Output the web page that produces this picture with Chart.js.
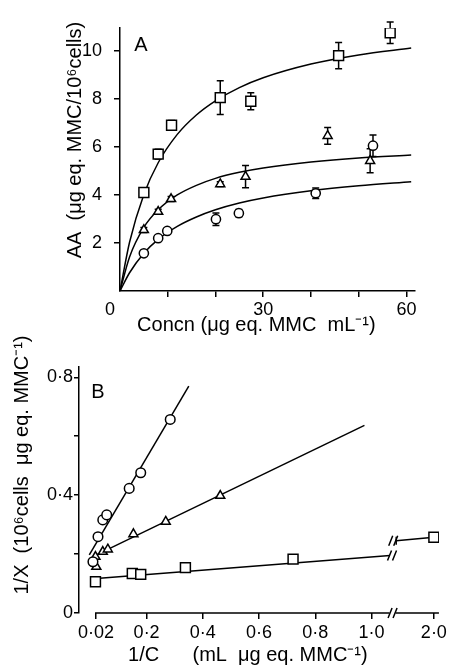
<!DOCTYPE html>
<html><head><meta charset="utf-8">
<script src="https://cdn.jsdelivr.net/npm/chart.js@4.4.1/dist/chart.umd.min.js"></script>
<style>
html,body{margin:0;padding:0;background:#fff;}
#wrap{position:relative;width:450px;height:670px;overflow:hidden;background:#fff;}
#ca{position:absolute;left:0;top:0;}
#cb{position:absolute;left:0;top:330px;}
</style></head><body>
<div id="wrap"><canvas id="ca" width="450" height="340"></canvas><canvas id="cb" width="450" height="340"></canvas></div>
<script>
// ---------- Panel A data ----------
const aSquareX = [5.0, 8.0, 10.8, 21.0, 27.4, 45.8, 56.6];
const aSquareY = [4.1, 5.7, 6.9, 8.05, 7.9, 9.8, 10.75];
const aSquareErr = [0.2, 0.2, 0.2, 0.7, 0.35, 0.55, 0.45];
const aTriX = [5.0, 8.0, 10.7, 21.0, 26.3, 43.5, 52.4];
const aTriY = [2.54, 3.3, 3.83, 4.45, 4.76, 6.46, 5.42];
const aTriErr = [0.1, 0.1, 0.1, 0.1, 0.46, 0.35, 0.5];
const aCircX = [5.0, 8.0, 9.9, 20.1, 24.9, 41.0, 53.0];
const aCircY = [1.57, 2.2, 2.5, 2.99, 3.24, 4.07, 6.05];
const aCircErr = [0.1, 0.1, 0.1, 0.26, 0.15, 0.22, 0.45];
const aCurveX = [0, 2, 5, 8, 12, 16, 20, 25, 30, 40, 50, 61];
const aSquareCurve = [0, 2.03, 4.02, 5.34, 6.52, 7.33, 7.92, 8.47, 8.88, 9.45, 9.83, 10.12];
const aTriCurve = [0, 1.42, 2.65, 3.38, 4.0, 4.40, 4.69, 4.94, 5.12, 5.37, 5.54, 5.66];
const aCircCurve = [0, 0.76, 1.57, 2.15, 2.69, 3.08, 3.38, 3.66, 3.87, 4.17, 4.38, 4.55];
const aXTicks = [0, 10, 20, 30, 40, 50, 60];
const aXTickLabels = ['0    ', '', '', '30', '', '', '60'];
const aYTicks = [2, 4, 6, 8, 10];
const aYTickLabels = ['2', '4', '6', '8', '10'];

// ---------- Panel B data ----------
const bCircX = [0.009, 0.027, 0.044, 0.058, 0.138, 0.179, 0.284];
const bCircY = [0.174, 0.259, 0.316, 0.333, 0.423, 0.476, 0.657];
const bTriX = [0.018, 0.021, 0.044, 0.062, 0.153, 0.268, 0.462];
const bTriY = [0.191, 0.157, 0.208, 0.216, 0.268, 0.31, 0.398];
const bSqX = [0.018, 0.149, 0.179, 0.338, 0.721, 2.0];
const bSqY = [0.106, 0.134, 0.131, 0.154, 0.183, 0.257];
const bCircLineX = [-0.004, 0.350];
const bCircLineY = [0.197, 0.770];
const bTriLineX = [0.012, 0.975];
const bTriLineY = [0.193, 0.637];
const bSqLineX = [0.033, 1.066];
const bSqLineY = [0.118, 0.195];
const bSqLine2X = [1.866, 2.0];
const bSqLine2Y = [0.245, 0.257];
const bXTicks = [0.02, 0.2, 0.4, 0.6, 0.8, 1.0, 2.0];
const bXTickLabels = ['0·02', '0·2', '0·4', '0·6', '0·8', '1·0', '2·0'];
const bYTicks = [0, 0.2, 0.4, 0.6, 0.8];
const bYTickLabels = ['0', '', '0·4', '', '0·8'];
const bXBreak = 1.075;      // where the axis is broken
const bXGapShift = 0.778;   // amount of axis removed by the break

// ---------- helpers ----------
const FONT = "'Liberation Sans', Arial, sans-serif";
const pts = (xs, ys) => xs.map((x, i) => ({x: x, y: ys[i]}));

function markerDs(xs, ys, style, radius, errs) {
  return {type: 'scatter', data: pts(xs, ys), pointStyle: style, pointRadius: radius,
    pointBorderWidth: 1.5, pointBackgroundColor: '#fff', pointBorderColor: '#000',
    showLine: false, errors: errs || null, order: 0};
}
function lineDs(xs, ys, curved) {
  return {type: 'line', data: pts(xs, ys), borderColor: '#000', borderWidth: 1.5,
    pointRadius: 0, fill: false, cubicInterpolationMode: curved ? 'monotone' : 'default',
    tension: 0, order: 1};
}

const errorBarPlugin = {
  id: 'errorBars',
  beforeDatasetsDraw(chart) {
    const ctx = chart.ctx, ys = chart.scales.y;
    ctx.save();
    ctx.strokeStyle = '#000'; ctx.lineWidth = 1.5;
    chart.data.datasets.forEach((ds, di) => {
      if (!ds.errors) return;
      const meta = chart.getDatasetMeta(di);
      meta.data.forEach((el, i) => {
        const e = ds.errors[i], v = ds.data[i].y;
        const top = ys.getPixelForValue(v + e), bot = ys.getPixelForValue(v - e);
        ctx.beginPath();
        ctx.moveTo(el.x, top); ctx.lineTo(el.x, bot);
        ctx.moveTo(el.x - 3.5, top); ctx.lineTo(el.x + 3.5, top);
        ctx.moveTo(el.x - 3.5, bot); ctx.lineTo(el.x + 3.5, bot);
        ctx.stroke();
      });
    });
    ctx.restore();
  }
};

function panelLabel(text, px, py) {
  return {
    id: 'panelLabel' + text,
    afterDraw(chart) {
      const ctx = chart.ctx;
      ctx.save();
      ctx.fillStyle = '#000';
      ctx.font = '20px ' + FONT;
      ctx.textAlign = 'center'; ctx.textBaseline = 'middle';
      ctx.fillText(text, px, py);
      ctx.restore();
    }
  };
}

const tickFont = {family: FONT, size: 18};
const titleFont = {family: FONT, size: 20};

// ---------- Panel A ----------
new Chart(document.getElementById('ca'), {
  type: 'scatter',
  data: {datasets: [
    markerDs(aSquareX, aSquareY, 'rect', 7, aSquareErr),
    markerDs(aTriX, aTriY, 'triangle', 5.2, aTriErr),
    markerDs(aCircX, aCircY, 'circle', 4.6, aCircErr),
    lineDs(aCurveX, aSquareCurve, true),
    lineDs(aCurveX, aTriCurve, true),
    lineDs(aCurveX, aCircCurve, true)
  ]},
  options: {
    responsive: false, animation: false, events: [],
    layout: {padding: {left: 0, right: 35, top: 28, bottom: 0}},
    plugins: {legend: {display: false}, tooltip: {enabled: false}},
    scales: {
      x: {
        type: 'linear', min: 0, max: 61.8, bounds: 'data',
        afterBuildTicks: (s) => { s.ticks = aXTicks.map(v => ({value: v})); },
        afterFit: (s) => { s.height = 49; },
        grid: {drawOnChartArea: false, tickLength: 6, lineWidth: 1.5,
          tickColor: (c) => (c.tick && c.tick.value === 0) ? 'rgba(0,0,0,0)' : '#000', color: '#000'},
        border: {display: true, color: '#000', width: 1.5},
        ticks: {autoSkip: false, maxRotation: 0, padding: 2, color: '#000', font: tickFont,
          callback: (v, i) => aXTickLabels[i]},
        title: {display: true, text: 'Concn (μg eq. MMC  mL⁻¹)    ', color: '#000',
          font: titleFont, padding: {top: 0, bottom: 3}}
      },
      y: {
        type: 'linear', min: 0, max: 10.95, bounds: 'data',
        afterBuildTicks: (s) => { s.ticks = aYTicks.map(v => ({value: v})); },
        afterFit: (s) => { s.width = 120; },
        grid: {drawOnChartArea: false, tickLength: 6, lineWidth: 1.5, tickColor: '#000', color: '#000'},
        border: {display: true, color: '#000', width: 1.5},
        ticks: {autoSkip: false, padding: 12, color: '#000', font: tickFont,
          callback: (v, i) => aYTickLabels[i]},
        title: {display: true, text: '       AA  (μg eq. MMC/10⁶cells)', color: '#000',
          font: titleFont, padding: {top: 63, bottom: 0}}
      }
    }
  },
  plugins: [errorBarPlugin, panelLabel('A', 141, 45)]
});

// ---------- Panel B: broken x axis ----------
const squeezeX = (v) => (v > bXBreak + 0.03 ? v - bXGapShift : v);
const expandX = (v) => (v > bXBreak + 0.03 ? v + bXGapShift : v);
class BrokenLinearScale extends Chart.LinearScale {
  getPixelForValue(value) {
    return super.getPixelForValue(value === null || value === undefined ? value : squeezeX(value));
  }
  getValueForPixel(pixel) { return expandX(super.getValueForPixel(pixel)); }
}
BrokenLinearScale.id = 'brokenLinear';
BrokenLinearScale.defaults = Chart.LinearScale.defaults;
Chart.register(BrokenLinearScale);

function slashes(ctx, x, y) {
  ctx.beginPath();
  ctx.moveTo(x - 4.5, y + 5); ctx.lineTo(x - 0.5, y - 5);
  ctx.moveTo(x + 0.5, y + 5); ctx.lineTo(x + 4.5, y - 5);
  ctx.stroke();
}
const brokenAxisPlugin = {
  id: 'brokenAxis',
  afterDraw(chart) {
    const ctx = chart.ctx, xs = chart.scales.x, area = chart.chartArea;
    const bx = xs.getPixelForValue(bXBreak);
    const y0 = area.bottom;
    ctx.save();
    ctx.strokeStyle = '#000'; ctx.lineWidth = 1.5;
    ctx.beginPath();
    ctx.moveTo(xs.getPixelForValue(bXTicks[0]) - 1, y0); ctx.lineTo(bx - 3, y0);
    ctx.moveTo(bx + 3, y0); ctx.lineTo(area.right, y0);
    ctx.stroke();
    slashes(ctx, bx, y0);
    // break marks on the square fit line
    const seg1 = chart.getDatasetMeta(5).data, seg2 = chart.getDatasetMeta(6).data;
    const e1 = seg1[seg1.length - 1], s2 = seg2[0];
    slashes(ctx, e1.x + 2, e1.y);
    slashes(ctx, s2.x - 3, s2.y);
    ctx.beginPath(); ctx.moveTo(s2.x, s2.y - 4); ctx.lineTo(s2.x, s2.y + 4); ctx.stroke();
    ctx.restore();
  }
};

new Chart(document.getElementById('cb'), {
  type: 'scatter',
  data: {datasets: [
    markerDs(bCircX, bCircY, 'circle', 4.8),
    markerDs(bTriX, bTriY, 'triangle', 5.2),
    markerDs(bSqX, bSqY, 'rect', 7),
    lineDs(bCircLineX, bCircLineY, false),
    lineDs(bTriLineX, bTriLineY, false),
    lineDs(bSqLineX, bSqLineY, false),
    lineDs(bSqLine2X, bSqLine2Y, false)
  ]},
  options: {
    responsive: false, animation: false, events: [],
    layout: {padding: {left: 0, right: 5, top: 37, bottom: 0}},
    plugins: {legend: {display: false}, tooltip: {enabled: false}},
    scales: {
      x: {
        type: 'brokenLinear', min: -0.0406, max: 1.24, bounds: 'data',
        afterBuildTicks: (s) => { s.ticks = bXTicks.map(v => ({value: v})); },
        afterFit: (s) => { s.height = 57; },
        grid: {drawOnChartArea: false, tickLength: 6, lineWidth: 1.5, tickColor: '#000', color: '#000'},
        border: {display: false},
        ticks: {autoSkip: false, maxRotation: 0, padding: 3, color: '#000', font: tickFont,
          callback: (v, i) => bXTickLabels[i]},
        title: {display: true, text: '1/C      (mL  μg eq. MMC⁻¹)    ', color: '#000',
          font: titleFont, padding: {top: 0, bottom: 3}}
      },
      y: {
        type: 'linear', min: 0, max: 0.835, bounds: 'data',
        afterBuildTicks: (s) => { s.ticks = bYTicks.map(v => ({value: v})); },
        afterFit: (s) => { s.width = 79; },
        grid: {drawOnChartArea: false, tickLength: 5, lineWidth: 1.5, tickColor: '#000', color: '#000'},
        border: {display: true, color: '#000', width: 1.5},
        ticks: {autoSkip: false, padding: 1, color: '#000', font: tickFont,
          callback: (v, i) => bYTickLabels[i]},
        title: {display: true, text: '         1/X  (10⁶cells  μg eq. MMC⁻¹)', color: '#000',
          font: titleFont, padding: {top: 10, bottom: 0}}
      }
    }
  },
  plugins: [brokenAxisPlugin, panelLabel('B', 98, 62)]
});
</script>
</body></html>
